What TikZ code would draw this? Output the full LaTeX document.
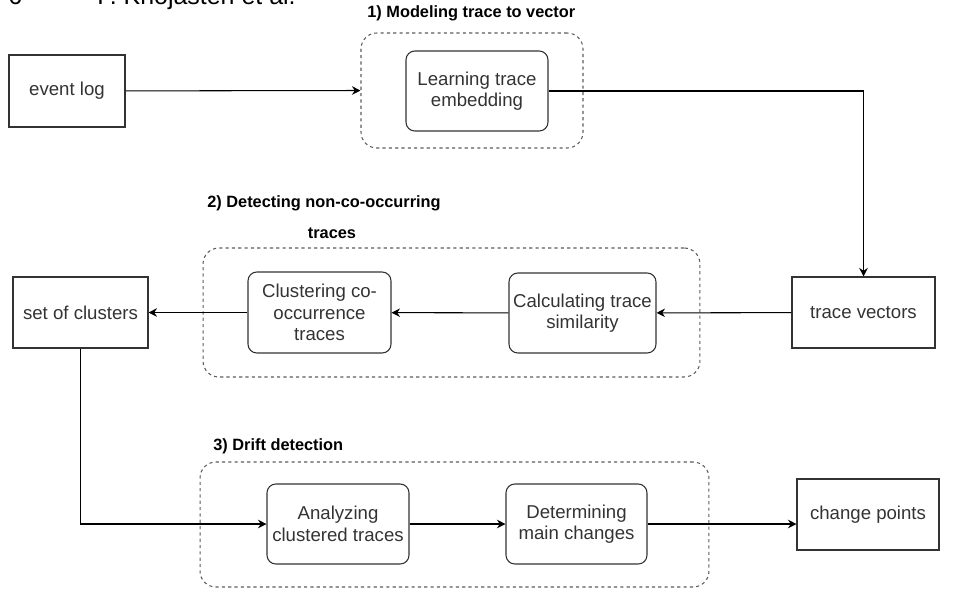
\documentclass[tikz,border=0pt]{standalone}
\usepackage{fontspec}
\setmainfont{Liberation Sans}
\usepackage{tikz}
\usetikzlibrary{arrows.meta}

\definecolor{ink}{HTML}{333333}

\begin{document}
\begin{tikzpicture}[x=0.02cm, y=-0.02cm,
    box/.style={draw=ink, line width=0.6pt, text=ink, align=center, inner sep=0pt,
        font=\fontsize{10.6}{12.2}\selectfont},
    step box/.style={box, rounded corners=5pt},
    group/.style={draw=ink!80, line width=0.6pt, dash pattern=on 1.8pt off 1.8pt,
        rounded corners=9pt, inner sep=0pt},
    title/.style={anchor=west, inner sep=0pt, text=black,
        font=\fontsize{9.3}{11}\selectfont\bfseries},
    arr/.style={-{Stealth[length=1.7mm, width=1.7mm]}, line width=0.6pt, draw=black}]
    \useasboundingbox (0,0) rectangle (974,592);

    % Page header, cut off at the top
    \node[anchor=base west, inner sep=0pt, font=\fontsize{14.2}{16}\selectfont] (pnum) at (8,4) {6};
    \node[anchor=base west, inner sep=0pt, font=\fontsize{14.2}{16}\selectfont] (phead) at (97,4) {F. Khojasteh et al.};

    % Dashed groups for the three phases
    \node[group, minimum width=4.44cm, minimum height=2.3cm] (g1) at (472,90.5) {};
    \node[group, minimum width=9.94cm, minimum height=2.58cm] (g2) at (451.5,312.5) {};
    \node[group, minimum width=10.18cm, minimum height=2.5cm] (g3) at (454.5,524.5) {};

    % Phase titles
    \node[title] (t1) at (367,13) {1) Modeling trace to vector};
    \node[title] (t2) at (207,203) {2) Detecting non-co-occurring};
    \node[title, anchor=center] (t2b) at (332,233) {traces};
    \node[title] (t3) at (213,446) {3) Drift detection};

    % Inputs and outputs
    \node[box, minimum width=2.32cm, minimum height=1.44cm] (log) at (67,91) {event log};
    \node[box, minimum width=2.86cm, minimum height=1.42cm] (vec) at (863.5,312.5) {trace vectors};
    \node[box, minimum width=2.7cm, minimum height=1.42cm] (clus) at (80.5,312.5) {set of clusters};
    \node[box, minimum width=2.84cm, minimum height=1.42cm] (chg) at (868,514.5) {change points};

    % Steps inside the phases
    \node[step box, minimum width=2.84cm, minimum height=1.6cm] (learn) at (477,91) {Learning trace\\embedding};
    \node[step box, minimum width=2.94cm, minimum height=1.6cm] (sim) at (582.5,313) {Calculating trace\\similarity};
    \node[step box, minimum width=2.86cm, minimum height=1.62cm] (cocl) at (319.5,312.5) {Clustering co-\\occurrence\\traces};
    \node[step box, minimum width=2.84cm, minimum height=1.6cm] (ana) at (338,524) {Analyzing\\clustered traces};
    \node[step box, minimum width=2.82cm, minimum height=1.6cm] (det) at (576.5,524) {Determining\\main changes};

    % Connectors
    \draw[arr] (log) -- (g1.west);
    \draw[arr] (learn) -| (vec);
    \draw[arr] (vec) -- (sim);
    \draw[arr] (sim) -- (cocl);
    \draw[arr] (cocl) -- (clus);
    \draw[arr] (clus) |- (ana);
    \draw[arr] (ana) -- (det);
    \draw[arr] (det) -- (det -| chg.west);
\end{tikzpicture}
\end{document}
